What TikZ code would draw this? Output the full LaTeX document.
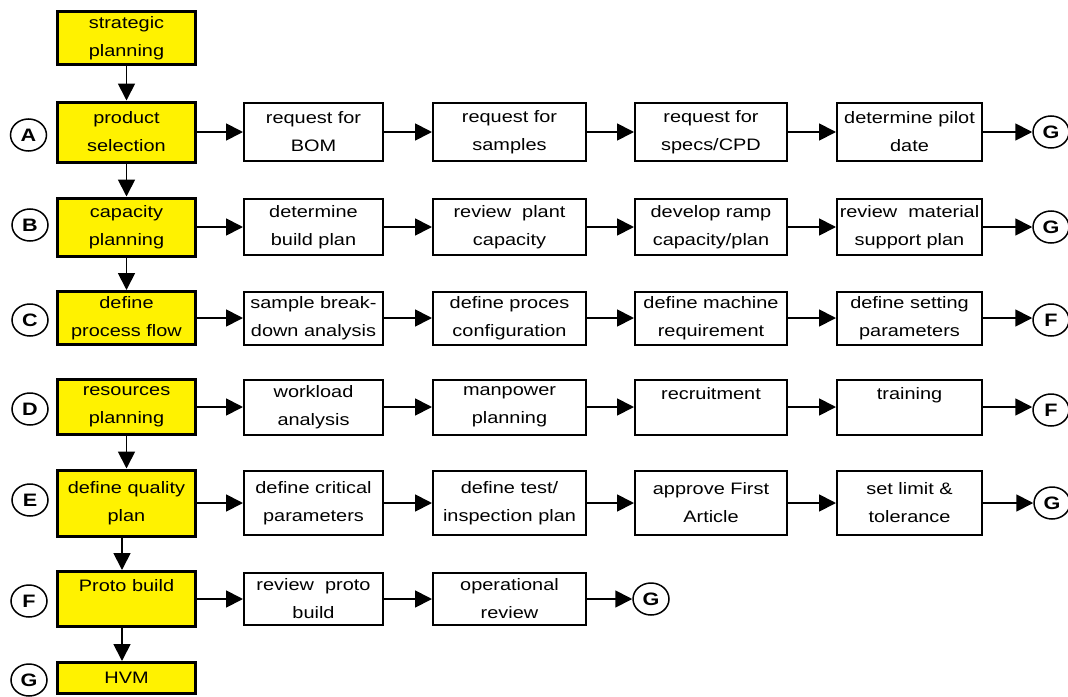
\documentclass[tikz,border=0pt]{standalone}
\usepackage{fontspec}
\setmainfont{Liberation Sans}[FakeStretch=1.2]
\usetikzlibrary{arrows.meta,positioning,shapes.geometric}

\begin{document}
\begin{tikzpicture}[x=1pt,y=-1pt,
  stage/.style={draw,line width=3pt,fill=yellow,align=center,minimum width=138pt,inner sep=0pt,font=\fontsize{16.6}{28}\selectfont},
  task/.style={draw,line width=2pt,fill=white,align=center,inner sep=0pt,font=\fontsize{16.6}{28}\selectfont},
  tag/.style={ellipse,draw,line width=1.5pt,fill=white,minimum width=36pt,minimum height=32pt,inner sep=0pt,font=\fontsize{18}{18}\selectfont\bfseries},
  arr/.style={-{Triangle[length=17pt,width=17pt]},line width=1.8pt}]
  \useasboundingbox (0,0) rectangle (1068,696);
  % main stages
  \node[stage,minimum height=53pt] (strat) at (126.5,38)  {strategic\\planning};
  \node[stage,minimum height=60pt] (prod)  at (126.5,132) {product\\selection};
  \node[stage,minimum height=58pt] (cap)   at (126.5,227) {capacity\\planning};
  \node[stage,minimum height=53pt] (flow)  at (126.5,318) {define\\process flow};
  \node[stage,minimum height=55pt] (res)   at (126.5,407) {resources\\planning};
  \node[stage,minimum height=66pt] (qual)  at (126.5,503) {define quality\\plan};
  \node[stage,minimum height=55pt] (proto) at (126.5,599) {Proto build\\\mbox{}};
  \node[stage,minimum height=31pt] (hvm)   at (126.5,678) {HVM};
  % left tags
  \node[tag] (tA) at (28.5,135) {A};
  \node[tag] (tB) at (30,225) {B};
  \node[tag] (tC) at (30,320) {C};
  \node[tag] (tD) at (30,409) {D};
  \node[tag] (tE) at (30,500) {E};
  \node[tag] (tF) at (29,601) {F};
  \node[tag] (tG) at (29,680) {G};
  % row A
  \node[task,minimum width=139pt,minimum height=58pt] (bom)     at (313.5,132) {request for\\BOM};
  \node[task,minimum width=153pt,minimum height=58pt] (samples) at (509.5,132) {request for\\samples};
  \node[task,minimum width=152pt,minimum height=58pt] (specs)   at (711,132)   {request for\\specs/CPD};
  \node[task,minimum width=145pt,minimum height=58pt] (pilot)   at (909.5,132) {determine pilot\\date};
  \node[tag] (gA) at (1051,132) {G};
  % row B
  \node[task,minimum width=139pt,minimum height=56pt] (buildplan) at (313.5,227) {determine\\build plan};
  \node[task,minimum width=153pt,minimum height=56pt] (plantcap)  at (509.5,227) {review\ \ plant\\capacity};
  \node[task,minimum width=152pt,minimum height=56pt] (ramp)      at (711,227)   {develop ramp\\capacity/plan};
  \node[task,minimum width=145pt,minimum height=56pt] (material)  at (909.5,227) {review\ \ material\\support plan};
  \node[tag] (gB) at (1051,227) {G};
  % row C
  \node[task,minimum width=139pt,minimum height=53pt] (breakdown) at (313.5,318) {sample break-\\down analysis};
  \node[task,minimum width=153pt,minimum height=53pt] (config)    at (509.5,318) {define proces\\configuration};
  \node[task,minimum width=152pt,minimum height=53pt] (machine)   at (711,318)   {define machine\\requirement};
  \node[task,minimum width=145pt,minimum height=53pt] (setting)   at (909.5,318) {define setting\\parameters};
  \node[tag] (fC) at (1051,320) {F};
  % row D
  \node[task,minimum width=139pt,minimum height=55pt] (workload) at (313.5,407) {workload\\analysis};
  \node[task,minimum width=153pt,minimum height=55pt] (manpower) at (509.5,407) {manpower\\planning};
  \node[task,minimum width=152pt,minimum height=55pt] (recruit)  at (711,407)   {recruitment\\\mbox{}};
  \node[task,minimum width=145pt,minimum height=55pt] (training) at (909.5,407) {training\\\mbox{}};
  \node[tag] (fD) at (1051,410) {F};
  % row E
  \node[task,minimum width=139pt,minimum height=64pt] (critical) at (313.5,503) {define critical\\parameters};
  \node[task,minimum width=153pt,minimum height=64pt] (inspect)  at (509.5,503) {define test/\\inspection plan};
  \node[task,minimum width=152pt,minimum height=64pt] (firstart) at (711,503)   {approve First\\Article};
  \node[task,minimum width=145pt,minimum height=64pt] (limit)    at (909.5,503) {set limit \&\\tolerance};
  \node[tag] (gE) at (1052,503) {G};
  % row F
  \node[task,minimum width=139pt,minimum height=52pt] (protorev) at (313.5,599) {review\ \ proto\\build};
  \node[task,minimum width=153pt,minimum height=52pt] (oprev)    at (509.5,599) {operational\\review};
  \node[tag] (gF) at (651,599) {G};
  % stage flow
  \draw[arr] (strat) -- (prod);
  \draw[arr] (prod) -- (cap);
  \draw[arr] (cap) -- (flow);
  \draw[arr] (res) -- (qual);
  \draw[arr] ([xshift=-4.5pt]qual.south) -- ([xshift=-4.5pt]proto.north);
  \draw[arr] ([xshift=-4.5pt]proto.south) -- ([xshift=-4.5pt]hvm.north);
  % rows
  \draw[arr] (prod) -- (bom);
  \draw[arr] (bom) -- (samples);
  \draw[arr] (samples) -- (specs);
  \draw[arr] (specs) -- (pilot);
  \draw[arr] (pilot) -- (gA);
  \draw[arr] (cap) -- (buildplan);
  \draw[arr] (buildplan) -- (plantcap);
  \draw[arr] (plantcap) -- (ramp);
  \draw[arr] (ramp) -- (material);
  \draw[arr] (material) -- (gB);
  \draw[arr] (flow) -- (breakdown);
  \draw[arr] (breakdown) -- (config);
  \draw[arr] (config) -- (machine);
  \draw[arr] (machine) -- (setting);
  \draw[arr] (setting.east) -- (setting.east -| fC.west);
  \draw[arr] (res) -- (workload);
  \draw[arr] (workload) -- (manpower);
  \draw[arr] (manpower) -- (recruit);
  \draw[arr] (recruit) -- (training);
  \draw[arr] (training.east) -- (training.east -| fD.west);
  \draw[arr] (qual) -- (critical);
  \draw[arr] (critical) -- (inspect);
  \draw[arr] (inspect) -- (firstart);
  \draw[arr] (firstart) -- (limit);
  \draw[arr] (limit) -- (gE);
  \draw[arr] (proto) -- (protorev);
  \draw[arr] (protorev) -- (oprev);
  \draw[arr] (oprev) -- (gF);
\end{tikzpicture}
\end{document}
